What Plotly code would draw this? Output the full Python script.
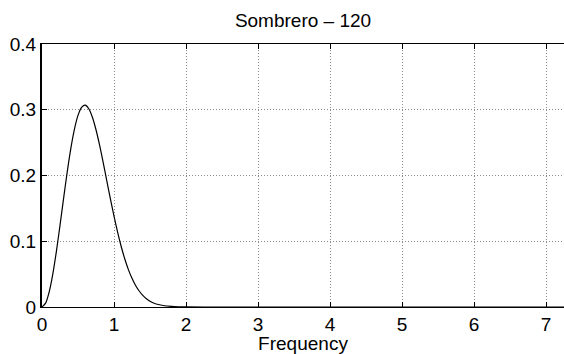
import plotly.graph_objects as go

freq = [0.00, 0.05, 0.10, 0.15, 0.20, 0.25, 0.30, 0.35, 0.40, 0.45, 0.50, 0.55,
        0.60, 0.65, 0.70, 0.75, 0.80, 0.85, 0.90, 0.95, 1.00, 1.05, 1.10, 1.15,
        1.20, 1.25, 1.30, 1.35, 1.40, 1.45, 1.50, 1.55, 1.60, 1.70, 1.80, 1.90,
        2.00, 2.50, 3.00, 4.00, 5.00, 6.00, 7.00, 7.25]
power = [0.0, 0.0059, 0.0231, 0.0501, 0.0847, 0.1241, 0.1653, 0.2052, 0.2409,
         0.2701, 0.2914, 0.3036, 0.3069, 0.3015, 0.2886, 0.2696, 0.2461, 0.2196,
         0.1920, 0.1645, 0.1381, 0.1138, 0.0920, 0.0730, 0.0569, 0.0436, 0.0328,
         0.0243, 0.0176, 0.0126, 0.0089, 0.0061, 0.0042, 0.0019, 0.0008, 0.0003,
         0.0001, 0.0, 0.0, 0.0, 0.0, 0.0, 0.0, 0.0]

x_ticks = [0, 1, 2, 3, 4, 5, 6, 7]
y_ticks = [0, 0.1, 0.2, 0.3, 0.4]
y_tick_labels = ["0", "0.1", "0.2", "0.3", "0.4"]
title_text = "Sombrero – 120"
x_label = "Frequency"

FONT = "Liberation Sans, Arial, Helvetica, sans-serif"

fig = go.Figure()
fig.add_trace(go.Scatter(x=freq, y=power, mode="lines", line=dict(color="black", width=1.2, shape="spline", smoothing=0.6), showlegend=False, hoverinfo="skip"))

fig.update_layout(
    width=564, height=354,
    margin=dict(l=42, r=0, t=44, b=47),
    paper_bgcolor="white", plot_bgcolor="white",
    font=dict(family=FONT, size=20, color="black"),
    title=dict(text=title_text, x=(42 + 564) / 2 / 564, xanchor="center", y=1 - 20 / 354, yanchor="middle",
               font=dict(family=FONT, size=19, color="black")),
)
fig.update_xaxes(
    range=[0, 7.25], tickvals=x_ticks, ticktext=[str(t) for t in x_ticks],
    showline=True, linecolor="black", linewidth=1.3, mirror="ticks",
    ticks="inside", ticklen=5, tickcolor="black", tickwidth=1,
    showgrid=True, gridcolor="#8a8a8a", gridwidth=1, griddash="1px,2px",
    zeroline=False, tickfont=dict(size=19),
    title=dict(text=x_label, standoff=2, font=dict(size=19)),
)
fig.update_yaxes(
    range=[0, 0.4], tickvals=y_ticks, ticktext=y_tick_labels,
    showline=True, linecolor="black", linewidth=2, mirror=False,
    ticks="inside", ticklen=5, tickcolor="black", tickwidth=1,
    showgrid=True, gridcolor="#8a8a8a", gridwidth=1, griddash="1px,2px",
    zeroline=False, tickfont=dict(size=19),
)

fig.write_html("out.html")
